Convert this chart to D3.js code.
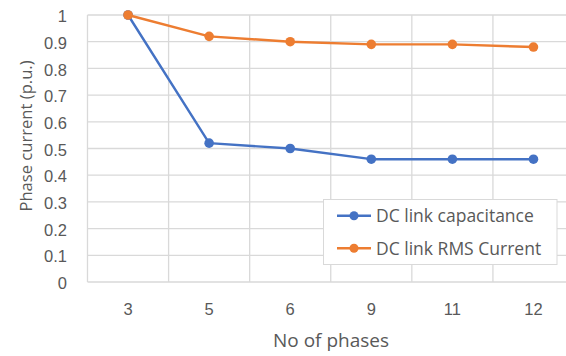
<!DOCTYPE html>
<html>
<head>
<meta charset="utf-8">
<script src="https://cdn.jsdelivr.net/npm/d3@7"></script>
<style>
  html, body { margin: 0; padding: 0; background: #fff; overflow: hidden; }
  svg { display: block; font-family: "Open Sans", "Noto Sans", sans-serif; }
</style>
</head>
<body>
<svg id="chart" width="566" height="356"></svg>
<script>
// Phase counts and per-unit values for each series
const phases = ["3", "5", "6", "9", "11", "12"];
const capacitance = [1, 0.52, 0.5, 0.46, 0.46, 0.46];
const rmsCurrent = [1, 0.92, 0.9, 0.89, 0.89, 0.88];
const yTicks = [0, 0.1, 0.2, 0.3, 0.4, 0.5, 0.6, 0.7, 0.8, 0.9, 1];
const seriesNames = ["DC link capacitance", "DC link RMS Current"];
const seriesColors = ["#4472C4", "#ED7D31"];

const svg = d3.select("#chart");
const plot = { left: 87.5, right: 574, top: 15, bottom: 282 };
const textColor = "#595959";
const gridColor = "#d9d9d9";

const x = d3.scaleBand().domain(phases).range([plot.left, plot.right]);
const y = d3.scaleLinear().domain([0, 1]).range([plot.bottom, plot.top]);

// Horizontal grid lines
svg.append("g").selectAll("line").data(yTicks).join("line")
  .attr("x1", plot.left).attr("x2", plot.right)
  .attr("y1", d => y(d)).attr("y2", d => y(d))
  .attr("stroke", gridColor).attr("stroke-width", 1.3);

// Vertical grid lines at category boundaries
const bounds = phases.map(p => x(p)).concat([x(phases[phases.length - 1]) + x.bandwidth()]);
svg.append("g").selectAll("line").data(bounds).join("line")
  .attr("x1", d => d).attr("x2", d => d)
  .attr("y1", plot.top).attr("y2", plot.bottom)
  .attr("stroke", gridColor).attr("stroke-width", 1.3);

// Y axis tick labels
const yAxis = svg.append("g")
  .attr("transform", "translate(67,0)")
  .call(d3.axisLeft(y).tickValues(yTicks).tickSize(0).tickPadding(0).tickFormat(d3.format("~g")));
yAxis.select(".domain").remove();
yAxis.selectAll("text").attr("fill", textColor).style("font-size", "16.5px")
  .attr("x", 0).attr("dy", "0.4em");

// X axis tick labels
const xAxis = svg.append("g")
  .attr("transform", `translate(0,${plot.bottom})`)
  .call(d3.axisBottom(x).tickSize(0));
xAxis.select(".domain").remove();
xAxis.selectAll("text").attr("fill", textColor).style("font-size", "16.5px")
  .attr("y", 33).attr("dy", null);

// Axis titles
svg.append("text")
  .attr("x", 331).attr("y", 346.5)
  .attr("text-anchor", "middle").attr("fill", textColor)
  .style("font-size", "19px").text("No of phases");
svg.append("text")
  .attr("transform", "translate(31.5,136) rotate(-90)")
  .attr("text-anchor", "middle").attr("fill", textColor)
  .style("font-size", "16.6px").text("Phase current (p.u.)");

// Series lines and markers
const cx = p => x(p) + x.bandwidth() / 2;
const line = d3.line().x((d, i) => cx(phases[i])).y(d => y(d));
[capacitance, rmsCurrent].forEach((vals, s) => {
  const g = svg.append("g");
  g.append("path").datum(vals)
    .attr("d", line).attr("fill", "none")
    .attr("stroke", seriesColors[s]).attr("stroke-width", 2.4)
    .attr("stroke-linejoin", "round");
  g.selectAll("circle").data(vals).join("circle")
    .attr("cx", (d, i) => cx(phases[i])).attr("cy", d => y(d))
    .attr("r", 4.8).attr("fill", seriesColors[s]);
});

// Legend
const legend = svg.append("g");
legend.append("rect")
  .attr("x", 323.5).attr("y", 199.5).attr("width", 233.5).attr("height", 65)
  .attr("fill", "#fff").attr("stroke", gridColor).attr("stroke-width", 1);
seriesNames.forEach((name, i) => {
  const cy = 215.8 + i * 32.4;
  legend.append("line")
    .attr("x1", 337).attr("x2", 371).attr("y1", cy).attr("y2", cy)
    .attr("stroke", seriesColors[i]).attr("stroke-width", 2.4);
  legend.append("circle").attr("cx", 354).attr("cy", cy).attr("r", 4.5)
    .attr("fill", seriesColors[i]);
  legend.append("text")
    .attr("x", 376).attr("y", cy + 6.5)
    .attr("fill", textColor).style("font-size", "17.5px").text(name);
});
</script>
</body>
</html>
